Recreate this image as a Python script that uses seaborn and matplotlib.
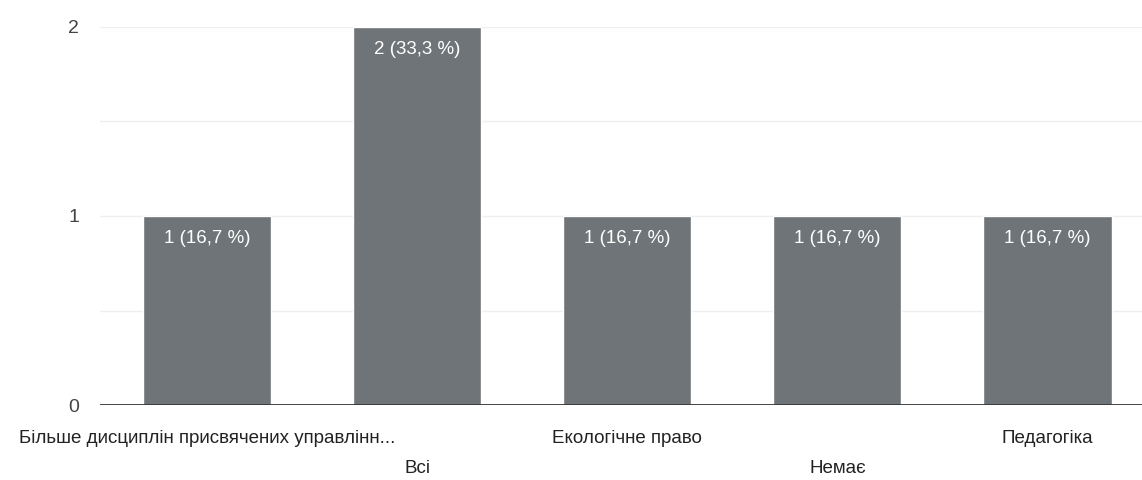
import matplotlib
matplotlib.use('Agg')
import pandas as pd
import seaborn as sns
import matplotlib.pyplot as plt

## DATA ##
categories = ['Більше дисциплін присвячених управлінн...', 'Всі', 'Екологічне право', 'Немає', 'Педагогіка']
counts = [1, 2, 1, 1, 1]
labels = ['1 (16,7 %)', '2 (33,3 %)', '1 (16,7 %)', '1 (16,7 %)', '1 (16,7 %)']

df = pd.DataFrame({'cat': categories, 'n': counts})

sns.set_style('white')
plt.rcParams['font.family'] = ['Liberation Sans', 'DejaVu Sans']

fig = plt.figure(figsize=(11.42, 4.8), dpi=100)
ax = fig.add_axes([0.0876, 0.156, 0.9124, 0.788])

sns.barplot(data=df, x='cat', y='n', color='#6f7478', saturation=1, width=0.61, ax=ax, zorder=3)

# light gridlines
for g in [0.5, 1, 1.5, 2]:
    ax.axhline(g, color='#efefef', lw=1, zorder=1)
ax.axhline(0, color='#333333', lw=2, zorder=4)

# value labels inside bars
for i, (v, t) in enumerate(zip(counts, labels)):
    ax.annotate(t, (i, v), xytext=(0, -10), textcoords='offset points',
                ha='center', va='top', color='white', fontsize=13.5, zorder=5)

ax.set_ylim(0, 2)
ax.set_xlim(-0.51, 4.45)
ax.set_yticks([0, 1, 2])
ax.set_yticklabels(['0', '1', '2'], fontsize=14, color='#444444')
ax.set_xticks(range(len(categories)))
ax.set_xticklabels([c if i % 2 == 0 else '\n' + c for i, c in enumerate(categories)],
                   fontsize=13.5, color='#222222', linespacing=2.0)
ax.tick_params(axis='x', length=0, pad=18)
ax.tick_params(axis='y', length=0, pad=15)
ax.set_xlabel('')
ax.set_ylabel('')
sns.despine(ax=ax, left=True, bottom=True, top=True, right=True)

fig.savefig('out.png', dpi=100)
